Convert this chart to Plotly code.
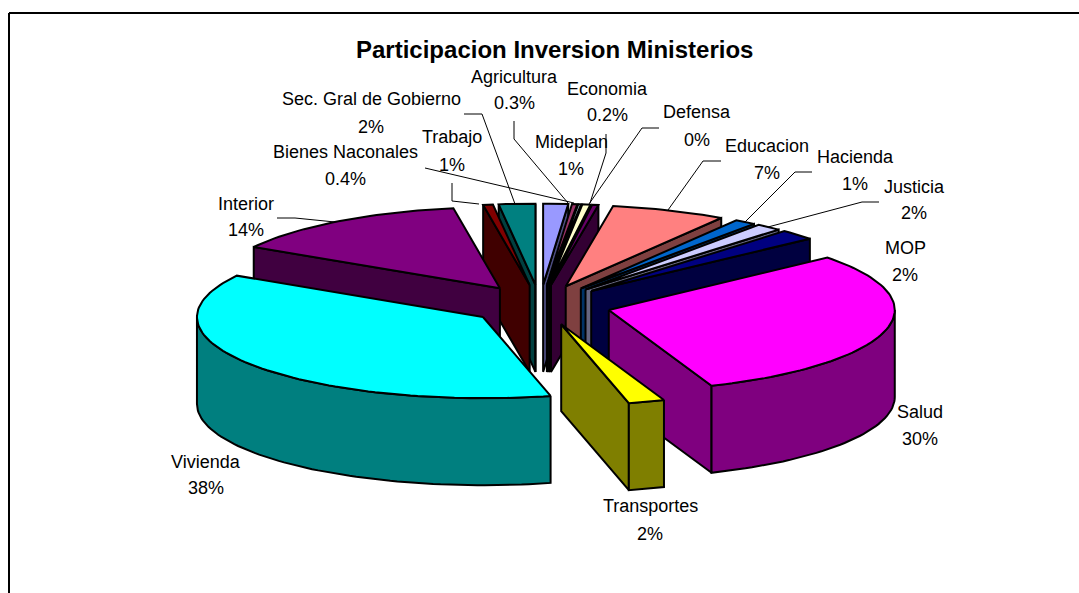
import math
import plotly.graph_objects as go

TITLE = "Participacion Inversion Ministerios"
ministries = ["Mideplan", "Agricultura", "Economia", "Bienes Naconales", "Defensa", "Educacion", "Hacienda",
              "Justicia", "MOP", "Salud", "Transportes", "Vivienda", "Interior", "Trabajo", "Sec. Gral de Gobierno"]
shares = [1.4, 0.3, 0.15, 0.45, 0.35, 6.5, 1.2, 1.45, 2.05, 30.3, 2.05, 37.3, 13.9, 0.55, 2.05]
share_labels = ["1%", "0.3%", "0.2%", "0.4%", "0%", "7%", "1%", "2%", "2%", "30%", "2%", "38%", "14%", "1%", "2%"]
top_colors = ["#9999FF", "#993366", "#CCFFFF", "#FFFFCC", "#660066", "#FF8080", "#0066CC", "#CCCCFF",
              "#000080", "#FF00FF", "#FFFF00", "#00FFFF", "#800080", "#800000", "#008080"]

# label position: (x, y of name, y of percentage)
label_pos = [(571, 142, 169), (514, 77, 103), (607, 89, 115), (345, 152, 179), (697, 112, 140), (767, 146, 173),
             (855, 157, 184), (914, 187, 213), (905, 248, 275), (920, 412, 439), (650, 506, 534), (206, 462, 488),
             (246, 204, 230), (452, 137, 165), (371, 99, 127)]
leader_lines = [
    [(514, 121), (514, 139), (568, 203)],
    [(606, 134), (606, 153), (590, 203)],
    [(425, 168), (574, 203)],
    [(659, 128), (642, 128), (589, 204)],
    [(721, 161), (703, 161), (668, 210)],
    [(812, 172), (795, 172), (745, 222)],
    [(879, 202), (862, 202), (768, 227)],
    [(277, 218), (295, 218), (335, 222)],
    [(452, 183), (452, 201), (479, 204)],
    [(464, 114), (482, 114), (515, 204)],
]

CX, CY, RX, TILT, EXPLODE, DEPTH = 540, 305, 286, 0.284, 71, 87
FONT = "Liberation Sans, Arial, sans-serif"


def shade(c):
    return "#" + "".join(f"{int(c[i:i+2], 16) // 2:02X}" for i in (1, 3, 5))


def pt(ax, ay, r, deg):
    a = math.radians(deg)
    return ax + r * math.sin(a), ay - r * TILT * math.cos(a)


def arc(ax, ay, a0, a1):
    n = max(2, int((a1 - a0) / 1.5) + 2)
    return [pt(ax, ay, RX, a0 + (a1 - a0) * i / (n - 1)) for i in range(n)]


def poly(fig, pts, fill):
    xs = [p[0] for p in pts] + [pts[0][0]]
    ys = [p[1] for p in pts] + [pts[0][1]]
    fig.add_trace(go.Scatter(x=xs, y=ys, mode="lines", fill="toself", fillcolor=fill,
                             line=dict(color="#000000", width=2), hoverinfo="skip", showlegend=False))


def wall(top_pts):
    return top_pts + [(x, y + DEPTH) for x, y in reversed(top_pts)]


total = sum(shares)
slices, start = [], 0.0
for i, v in enumerate(shares):
    end = start + v / total * 360
    slices.append((i, start, end))
    start = end

fig = go.Figure()
# painter's order: rear slices first
for i, a0, a1 in sorted(slices, key=lambda s: -math.cos(math.radians((s[1] + s[2]) / 2))):
    mid = (a0 + a1) / 2
    ax = CX + EXPLODE * math.sin(math.radians(mid))
    ay = CY - EXPLODE * TILT * math.cos(math.radians(mid))
    top, dark = top_colors[i], shade(top_colors[i])
    if math.sin(math.radians(a0)) < 0:
        poly(fig, wall([(ax, ay), pt(ax, ay, RX, a0)]), dark)
    if math.sin(math.radians(a1)) > 0:
        poly(fig, wall([(ax, ay), pt(ax, ay, RX, a1)]), dark)
    lo, hi = max(a0, 90), min(a1, 270)
    if hi > lo:
        poly(fig, wall(arc(ax, ay, lo, hi)), dark)
    poly(fig, [(ax, ay)] + arc(ax, ay, a0, a1), top)

for line in leader_lines:
    fig.add_trace(go.Scatter(x=[p[0] for p in line], y=[p[1] for p in line], mode="lines",
                             line=dict(color="#000000", width=1), hoverinfo="skip", showlegend=False))

annotations = []
for name, pct, (x, y1, y2) in zip(ministries, share_labels, label_pos):
    for text, y in ((name, y1), (pct, y2)):
        annotations.append(dict(x=x, y=y, xref="x", yref="y", text=text, showarrow=False, xanchor="center",
                                yanchor="middle", font=dict(family=FONT, size=18, color="#000000")))
annotations.append(dict(x=554.5, y=49, xref="x", yref="y", text=f"<b>{TITLE}</b>", showarrow=False,
                        xanchor="center", yanchor="middle", font=dict(family=FONT, size=24, color="#000000")))

fig.update_layout(
    width=1079, height=593, autosize=False, margin=dict(l=0, r=0, t=0, b=0),
    paper_bgcolor="#FFFFFF", plot_bgcolor="#FFFFFF", showlegend=False, annotations=annotations,
    xaxis=dict(range=[0, 1079], visible=False, fixedrange=True),
    yaxis=dict(range=[593, 0], visible=False, fixedrange=True),
    shapes=[dict(type="line", xref="x", yref="y", x0=9, y0=13, x1=1079, y1=13, line=dict(color="#000000", width=2)),
            dict(type="line", xref="x", yref="y", x0=9, y0=13, x1=9, y1=593, line=dict(color="#000000", width=2))],
)
fig.write_html("out.html", config={"displayModeBar": False},
               post_script="document.documentElement.style.overflow='hidden';document.body.style.margin='0';")
